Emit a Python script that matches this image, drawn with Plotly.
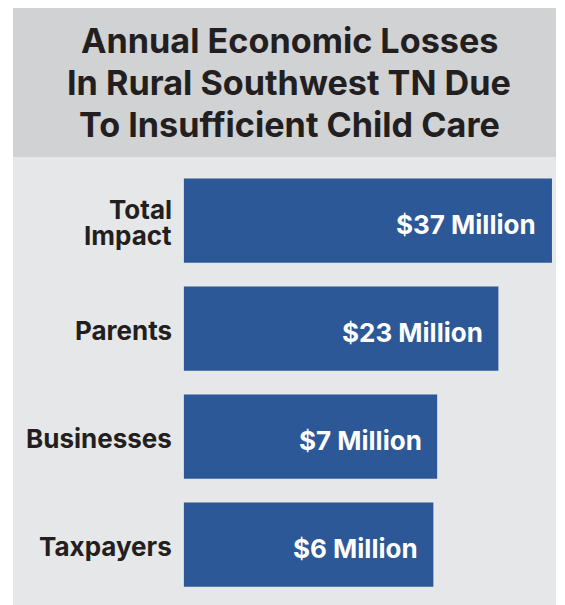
import plotly.graph_objects as go

title_lines = ["Annual Economic Losses", "In Rural Southwest TN Due", "To Insufficient Child Care"]
categories = ["Total<br>Impact", "Parents", "Businesses", "Taxpayers"]
values = [37, 23, 7, 6]
value_labels = ["$37 Million", "$23 Million", "$7 Million", "$6 Million"]

W, H = 565, 605
OFF = 8  # page body margin
FONT = "Inter"
TXT = "#231f20"
BAR = "#2c5897"
BASE = -59.2


def PX(sx):
    return (sx - OFF) / W


def PY(sy):
    return 1 - (sy - OFF) / H


fig = go.Figure()
fig.add_trace(go.Bar(
    y=categories, x=[v - BASE for v in values], base=BASE, orientation="h",
    marker=dict(color=BAR, line=dict(width=0)), width=0.78, hoverinfo="skip",
))

ann = []
# title lines
for i, t in enumerate(title_lines):
    ann.append(dict(x=PX(289), y=PY(40.8 + i * 41.7), xref="paper", yref="paper", text=t,
                    showarrow=False, xanchor="center", yanchor="middle",
                    font=dict(family=FONT, size=34.2, color=TXT, weight="bold")))

for c, v, lab in zip(categories, values, value_labels):
    ann.append(dict(x=v, y=c, xref="x", yref="y", text=lab, showarrow=False,
                    xanchor="right", yanchor="middle", xshift=-13.5, yshift=-3.5,
                    font=dict(family=FONT, size=26, color="white", weight="bold")))
    parts = c.split("<br>")
    n = len(parts)
    for i, p in enumerate(parts):
        dy = 2 + (i - (n - 1) / 2) * 26.7
        ann.append(dict(x=BASE, y=c, xref="x", yref="y", text=p, showarrow=False,
                        xanchor="right", yanchor="middle", xshift=-9.5, yshift=-dy,
                        font=dict(family=FONT, size=26, color=TXT, weight="bold")))

fig.update_layout(
    width=W, height=H, margin=dict(l=0, r=0, t=0, b=0),
    paper_bgcolor="white", plot_bgcolor="rgba(0,0,0,0)",
    showlegend=False,
    xaxis=dict(range=[-105.17, 42.5], visible=False, fixedrange=True),
    yaxis=dict(range=[3.634, -1.968], visible=False, fixedrange=True),
    annotations=ann,
    shapes=[
        dict(type="rect", xref="paper", yref="paper", x0=PX(13), x1=PX(556),
             y0=0, y1=PY(157), fillcolor="#e6e7e8", line=dict(width=0), layer="below"),
        dict(type="rect", xref="paper", yref="paper", x0=PX(13), x1=PX(556),
             y0=PY(157), y1=1, fillcolor="#d1d2d4", line=dict(width=0), layer="below"),
    ],
)
fig.write_html("out.html")
